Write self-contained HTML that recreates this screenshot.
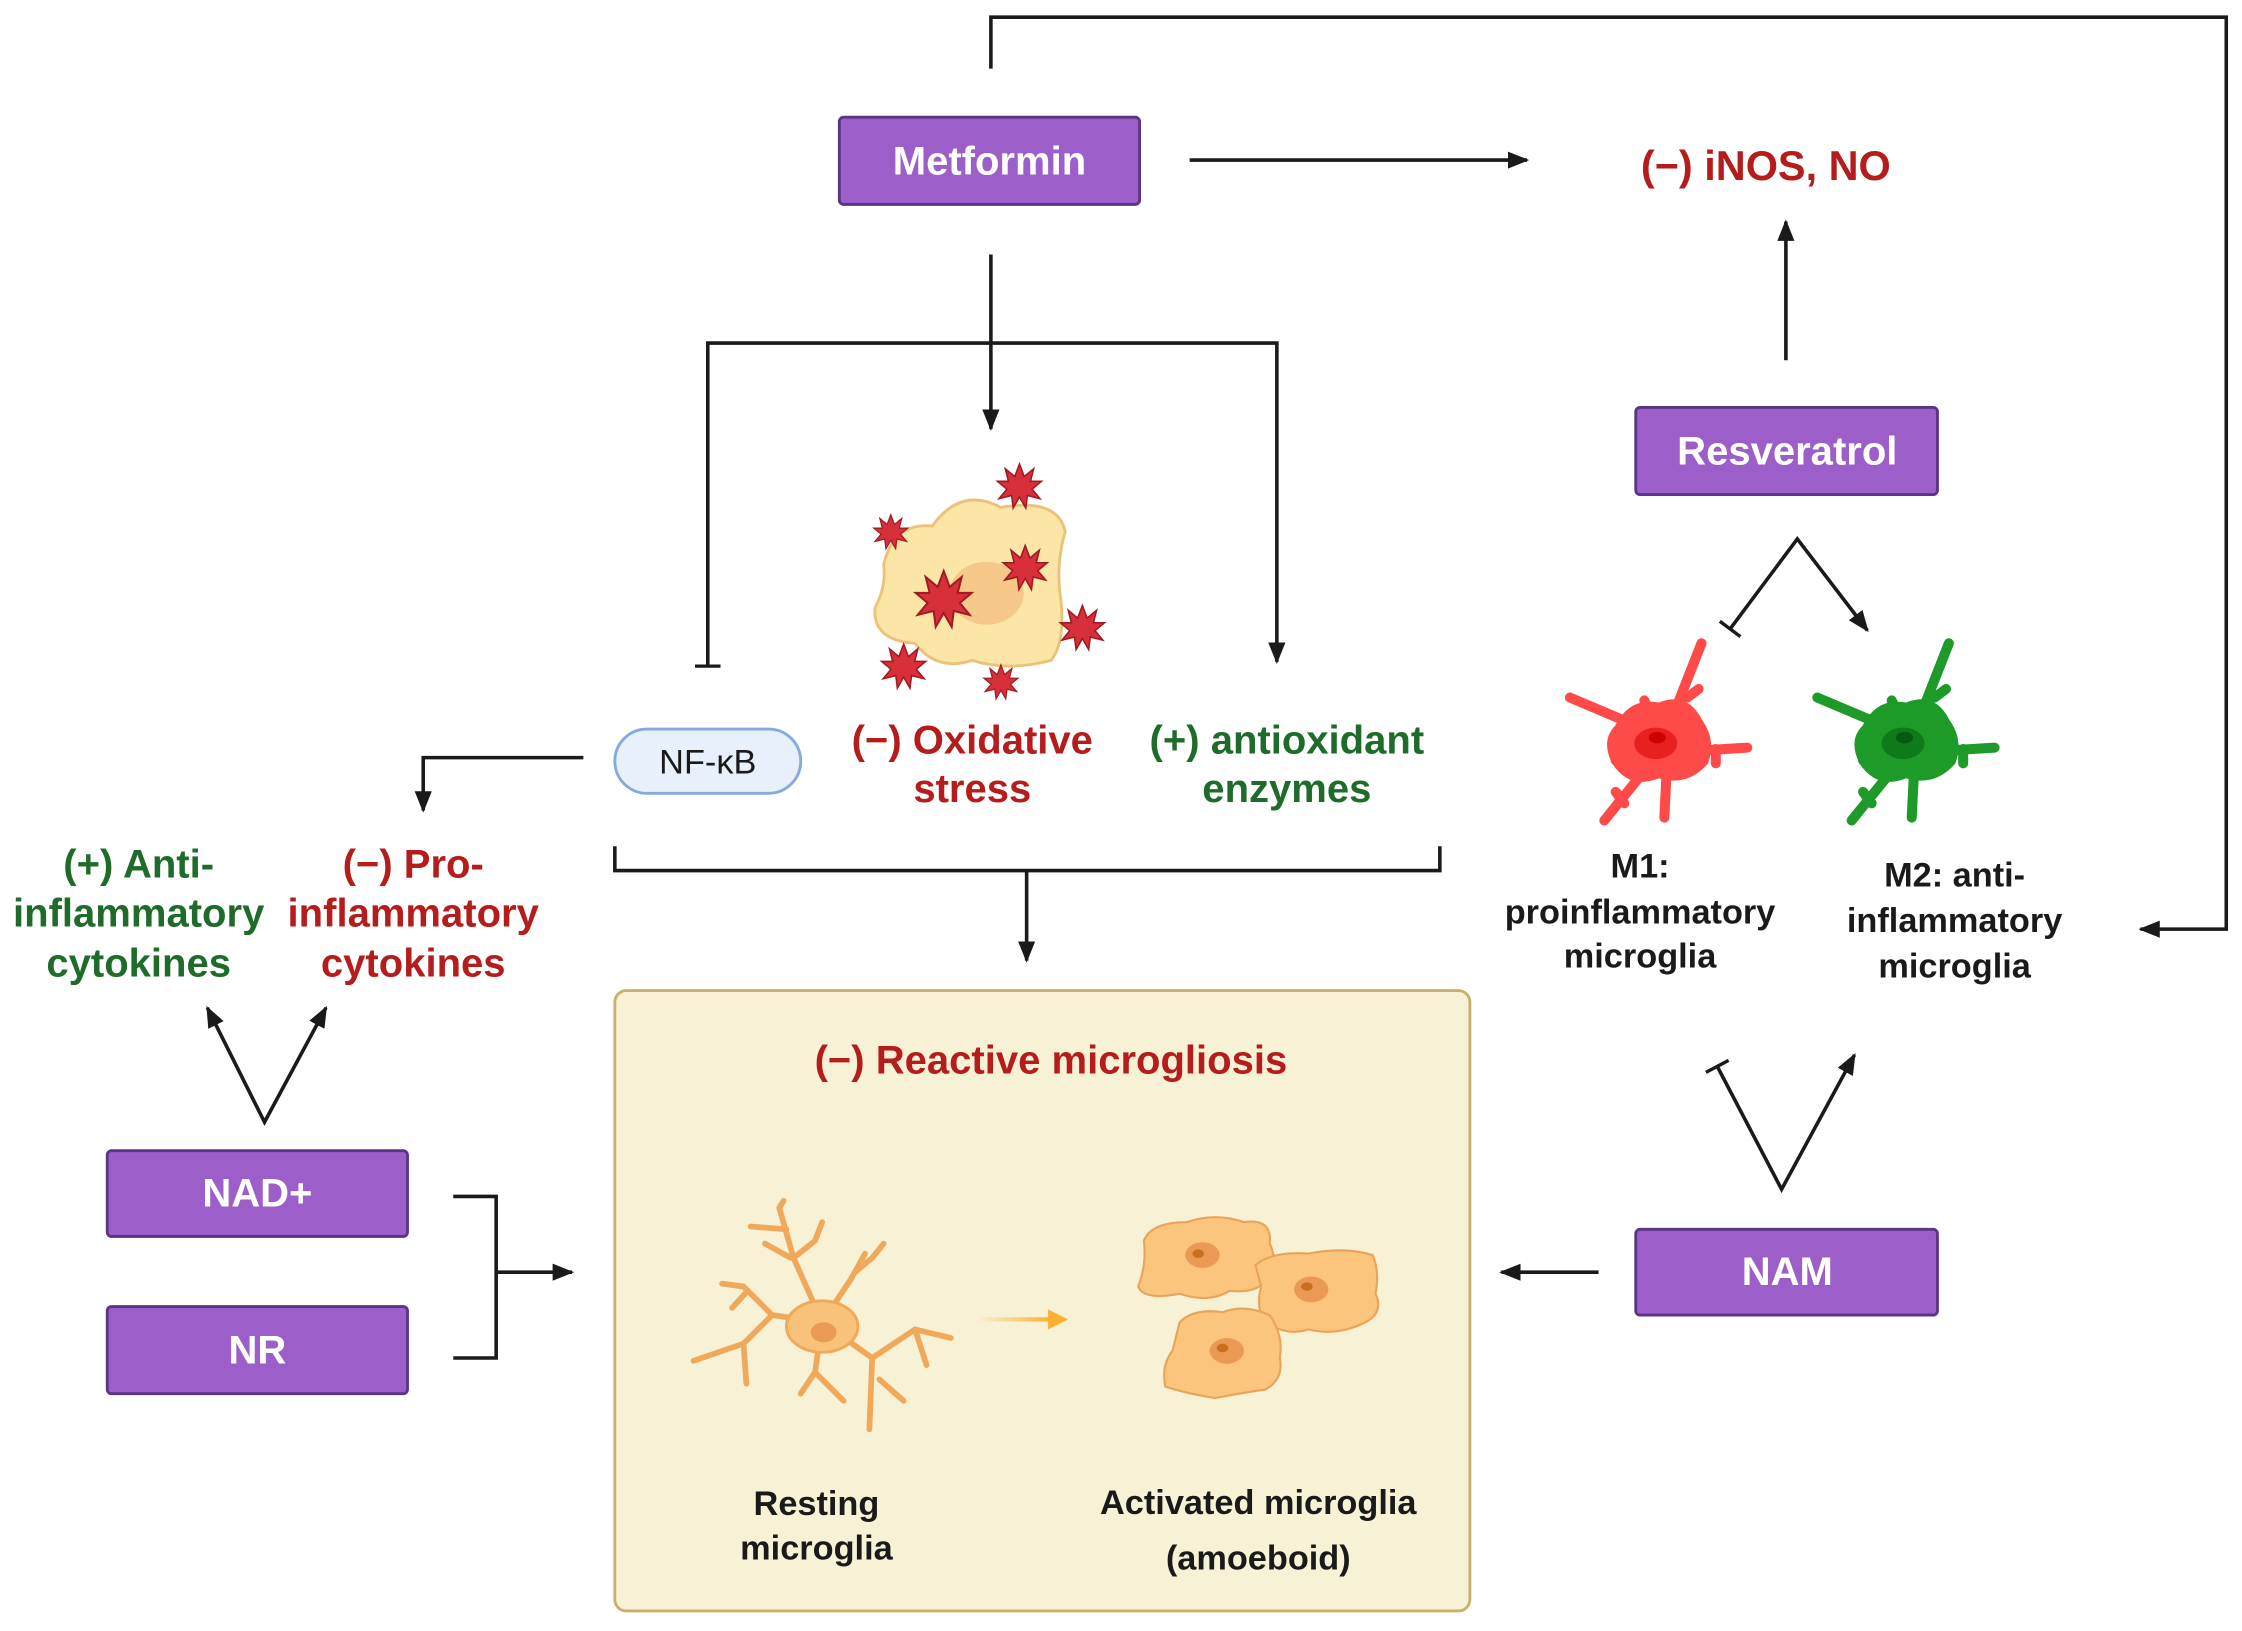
<!DOCTYPE html>
<html><head><meta charset="utf-8"><style>
html,body{margin:0;padding:0;background:#fff}
svg{display:block}
text{font-family:"Liberation Sans",sans-serif;font-weight:bold}
</style></head><body>
<svg width="2242" height="1631" viewBox="0 0 1568 1141" preserveAspectRatio="none" xmlns="http://www.w3.org/2000/svg">
<defs>
<marker id="a" viewBox="0 0 10 10" refX="9" refY="5" markerWidth="15" markerHeight="15" orient="auto-start-reverse" markerUnits="userSpaceOnUse"><path d="M0,1 L10,5 L0,9 z" fill="#1a1a1a"/></marker>
<marker id="t" viewBox="0 0 10 10" refX="5" refY="5" markerWidth="18" markerHeight="18" orient="auto" markerUnits="userSpaceOnUse"><path d="M5,0 L5,10" stroke="#1a1a1a" stroke-width="1.3"/></marker>
<polygon id="star" points="0,-14 3,-6 9,-11 7,-3 14,-3 8,2 13,8 5,6 4,14 0,7 -4,14 -5,6 -13,8 -8,2 -14,-3 -7,-3 -9,-11 -3,-6" fill="#d8303a" stroke="#a01a22" stroke-width="1"/>
<g id="mg">
<path d="M-10,-8 L-62,-30 M8,-12 L30,-68 M14,8 L62,5 M-4,14 L-38,56 M6,14 L4,54 M-12,6 L-30,14 M-2,-12 L-10,-28 M20,-30 L28,-36 M40,6 L40,16 M-30,36 L-24,44" stroke-width="7" stroke-linecap="round" fill="none"/>
<path d="M-30,-10 Q-20,-30 0,-26 Q20,-34 30,-14 Q40,0 34,16 Q20,32 0,26 Q-20,34 -32,16 Q-40,0 -30,-10 Z"/>
</g>
<linearGradient id="og" x1="0" x2="1" y1="0" y2="0"><stop offset="0" stop-color="#ffb030" stop-opacity="0"/><stop offset="1" stop-color="#ffb030"/></linearGradient>
</defs>

<!-- Metformin -->
<rect x="587" y="82" width="210" height="61" rx="3" fill="#9c5fc9" stroke="#5b3585" stroke-width="2"/>
<text x="692" y="122" text-anchor="middle" font-size="28" fill="#fff">Metformin</text>
<polyline points="693,48 693,12 1557,12 1557,650 1497,650" fill="none" stroke="#1a1a1a" stroke-width="2.5" marker-end="url(#a)"/>
<line x1="832" y1="112" x2="1068" y2="112" stroke="#1a1a1a" stroke-width="2.5" marker-end="url(#a)"/>
<text x="1235" y="126" text-anchor="middle" font-size="29" fill="#b51c1c">(−) iNOS, NO</text>
<line x1="1249" y1="252" x2="1249" y2="155" stroke="#1a1a1a" stroke-width="2.5" marker-end="url(#a)"/>

<!-- Resveratrol -->
<rect x="1144" y="285" width="211" height="61" rx="3" fill="#9c5fc9" stroke="#5b3585" stroke-width="2"/>
<text x="1250" y="325" text-anchor="middle" font-size="28" fill="#fff">Resveratrol</text>
<polyline points="1210,440 1257,377 1306,441" fill="none" stroke="#1a1a1a" stroke-width="2.5" marker-end="url(#a)" marker-start="url(#t)"/>

<!-- M1/M2 cells -->
<g transform="translate(1160,518)" fill="#ff4a4a" stroke="#ff4a4a"><use href="#mg"/><ellipse cx="-2" cy="2" rx="15" ry="11" fill="#e82020" stroke="none"/><ellipse cx="-1" cy="-2" rx="6" ry="4" fill="#c00" stroke="none"/></g>
<g transform="translate(1333,518)" fill="#1e9a28" stroke="#1e9a28"><use href="#mg"/><ellipse cx="-2" cy="2" rx="15" ry="11" fill="#0e7a1a" stroke="none"/><ellipse cx="-1" cy="-2" rx="6" ry="4" fill="#065a10" stroke="none"/></g>
<g font-size="24" fill="#1a1a1a" text-anchor="middle">
<text x="1147" y="614">M1:</text><text x="1147" y="646">proinflammatory</text><text x="1147" y="677">microglia</text>
<text x="1367" y="620">M2: anti-</text><text x="1367" y="652">inflammatory</text><text x="1367" y="684">microglia</text>
</g>

<!-- Metformin branching -->
<line x1="693" y1="178" x2="693" y2="300" stroke="#1a1a1a" stroke-width="2.5" marker-end="url(#a)"/>
<polyline points="495,466 495,240 893,240 893,463" fill="none" stroke="#1a1a1a" stroke-width="2.5" marker-start="url(#t)" marker-end="url(#a)"/>

<!-- cell with ROS -->
<path d="M618,395 Q625,365 652,368 Q672,340 700,355 Q740,348 745,372 Q738,395 742,420 Q745,450 735,462 Q705,470 680,462 Q655,470 640,450 Q610,448 612,425 Q620,410 618,395 Z" fill="#fbe6a8" stroke="#ecc27a" stroke-width="2"/>
<ellipse cx="690" cy="415" rx="26" ry="22" fill="#f6c98a"/>
<use href="#star" transform="translate(713,340) scale(1.1)"/>
<use href="#star" transform="translate(623,372) scale(0.85)"/>
<use href="#star" transform="translate(717,397) scale(1.1)"/>
<use href="#star" transform="translate(660,419) scale(1.4)"/>
<use href="#star" transform="translate(757,439) scale(1.1)"/>
<use href="#star" transform="translate(632,466) scale(1.1)"/>
<use href="#star" transform="translate(700,477) scale(0.85)"/>

<rect x="430" y="510" width="130" height="45" rx="22.5" fill="#e7f0fb" stroke="#86aadc" stroke-width="2"/>
<text x="495" y="541" text-anchor="middle" font-size="24" style="font-weight:normal" fill="#1a1a1a">NF-κB</text>
<g font-size="28" text-anchor="middle">
<text x="680" y="527" fill="#b51c1c">(−) Oxidative</text><text x="680" y="561" fill="#b51c1c">stress</text>
<text x="900" y="527" fill="#1e6b2a">(+) antioxidant</text><text x="900" y="561" fill="#1e6b2a">enzymes</text>
<text x="97" y="614" fill="#1e6b2a">(+) Anti-</text><text x="97" y="648" fill="#1e6b2a">inflammatory</text><text x="97" y="683" fill="#1e6b2a">cytokines</text>
<text x="289" y="614" fill="#b51c1c">(−) Pro-</text><text x="289" y="648" fill="#b51c1c">inflammatory</text><text x="289" y="683" fill="#b51c1c">cytokines</text>
</g>
<polyline points="408,530 296,530 296,567" fill="none" stroke="#1a1a1a" stroke-width="2.5" marker-end="url(#a)"/>
<polyline points="430,592 430,609 1007,609 1007,592" fill="none" stroke="#1a1a1a" stroke-width="2.5"/>
<line x1="718" y1="609" x2="718" y2="672" stroke="#1a1a1a" stroke-width="2.5" marker-end="url(#a)"/>

<!-- big box -->
<rect x="430" y="693" width="598" height="434" rx="8" fill="#f7f2d5" stroke="#c9b06c" stroke-width="2"/>
<text x="735" y="751" text-anchor="middle" font-size="28" fill="#b51c1c">(−) Reactive microgliosis</text>
<!-- resting microglia -->
<g stroke="#f0a85a" stroke-width="4" fill="none" stroke-linecap="round">
<path d="M575,925 L555,880 L545,845 L548,840 M550,860 L525,858 M553,880 L535,870 M555,880 L570,868 L575,855 M575,925 L595,895 L605,877 M598,890 L610,880 L618,870 M575,925 L540,920 L520,900 L505,898 M522,904 L512,915 M540,920 L520,940 L485,952 M520,940 L522,968 M575,925 L570,960 L560,975 M570,960 L590,980 M575,925 L610,950 L640,930 L665,936 M640,930 L648,955 M610,950 L608,1000 M615,965 L632,980"/>
</g>
<ellipse cx="575" cy="928" rx="25" ry="18" fill="#f9c27a" stroke="#f0a85a" stroke-width="2"/>
<ellipse cx="576" cy="932" rx="9" ry="7" fill="#eb9a55"/>
<rect x="683" y="921.5" width="52" height="3" fill="url(#og)"/>
<path d="M733,916 L747,923 L733,930 z" fill="#ffb030"/>
<!-- activated -->
<g fill="#fcc57e" stroke="#e9a45a" stroke-width="1.5">
<path d="M800,868 Q805,855 830,855 Q850,848 870,855 Q890,852 888,870 Q895,885 885,895 Q880,905 860,903 Q845,912 825,905 Q800,910 796,900 Q802,885 800,868 Z"/>
<path d="M878,885 Q890,875 915,877 Q940,872 960,878 Q965,890 962,905 Q968,918 955,925 Q935,935 915,930 Q900,935 885,925 Q878,915 882,900 Z"/>
<path d="M825,925 Q835,915 855,918 Q870,912 888,920 Q898,935 895,950 Q898,965 885,972 Q865,975 850,978 Q830,975 815,970 Q812,955 820,945 Z"/>
</g>
<g fill="#eb9a55"><ellipse cx="841" cy="878" rx="12" ry="9"/><ellipse cx="917" cy="902" rx="12" ry="9"/><ellipse cx="858" cy="945" rx="12" ry="9"/></g>
<g fill="#c8701e"><ellipse cx="838" cy="877" rx="4" ry="3"/><ellipse cx="914" cy="900" rx="4" ry="3"/><ellipse cx="855" cy="943" rx="4" ry="3"/></g>
<g font-size="24" fill="#1a1a1a" text-anchor="middle">
<text x="571" y="1060">Resting</text><text x="571" y="1091">microglia</text>
<text x="880" y="1059">Activated microglia</text><text x="880" y="1098">(amoeboid)</text>
</g>

<!-- NAD+ / NR -->
<rect x="75" y="805" width="210" height="60" rx="3" fill="#9c5fc9" stroke="#5b3585" stroke-width="2"/>
<text x="180" y="844" text-anchor="middle" font-size="28" fill="#fff">NAD+</text>
<rect x="75" y="914" width="210" height="61" rx="3" fill="#9c5fc9" stroke="#5b3585" stroke-width="2"/>
<text x="180" y="954" text-anchor="middle" font-size="28" fill="#fff">NR</text>
<polyline points="145,705 185,785 228,705" fill="none" stroke="#1a1a1a" stroke-width="2.5" marker-end="url(#a)" marker-start="url(#a)"/>
<polyline points="317,837 347,837 347,950 317,950" fill="none" stroke="#1a1a1a" stroke-width="2.5"/>
<line x1="347" y1="890" x2="400" y2="890" stroke="#1a1a1a" stroke-width="2.5" marker-end="url(#a)"/>

<!-- NAM -->
<rect x="1144" y="860" width="211" height="60" rx="3" fill="#9c5fc9" stroke="#5b3585" stroke-width="2"/>
<text x="1250" y="899" text-anchor="middle" font-size="28" fill="#fff">NAM</text>
<line x1="1118" y1="890" x2="1050" y2="890" stroke="#1a1a1a" stroke-width="2.5" marker-end="url(#a)"/>
<polyline points="1201,746 1246,832 1297,738" fill="none" stroke="#1a1a1a" stroke-width="2.5" marker-start="url(#t)" marker-end="url(#a)"/>
</svg>
</body></html>
